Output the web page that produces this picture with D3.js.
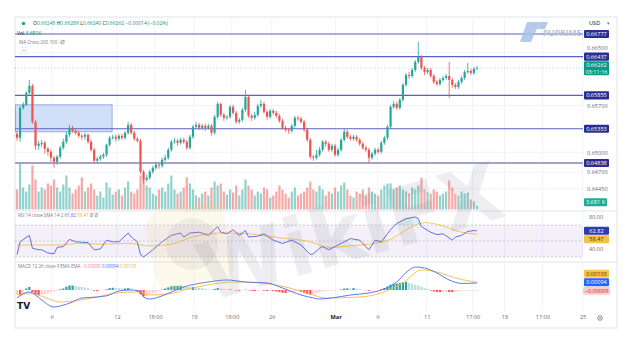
<!DOCTYPE html>
<html><head><meta charset="utf-8">
<script src="https://cdn.jsdelivr.net/npm/d3@7"></script>
<style>body{margin:0;background:#fff;}svg{display:block;}</style>
</head><body>
<svg id="c" width="636" height="345"></svg>
<script>
// ---- DATA (prices x 1e5) ----
const opens = [65277,65217,65667,65712,65892,65997,65457,65097,65127,65142,
65052,65007,64917,64857,64932,65067,65157,65262,65367,65322,
65292,65247,65232,65262,65157,65037,64872,64902,64932,64962,
65112,65217,65232,65202,65247,65217,65292,65412,65292,65202,
65172,64707,64587,64617,64707,64767,64812,64797,64887,64917,
65037,65157,65172,65142,65187,65157,65067,65232,65382,65412,
65367,65397,65367,65397,65292,65532,65727,65562,65517,65532,
65682,65592,65457,65487,65637,65832,65547,65517,65562,65697,
65727,65607,65532,65622,65592,65547,65472,65367,65337,65322,
65397,65517,65502,65457,65337,65187,64932,64917,64962,65037,
65157,65127,65037,65097,64962,65037,65187,65307,65232,65202,
65232,65187,65127,65067,65037,64917,64977,65037,65007,65142,
65217,65382,65682,65727,65667,65787,66012,66162,66147,66237,
66357,66432,66267,66207,66237,66147,66057,66027,66087,66117,
66147,66087,66012,65982,66057,66117,66207,66222,66192,66252];
const highs = [65322,65697,65757,65922,66087,66027,65487,65172,65187,65172,
65082,65037,64947,64962,65097,65202,65307,65412,65397,65352,
65322,65277,65292,65277,65187,65067,64932,64962,64992,65127,
65247,65262,65262,65277,65277,65322,65457,65442,65322,65232,
65202,64737,64662,64737,64797,64857,64842,64917,64962,65067,
65187,65217,65202,65217,65217,65187,65262,65412,65457,65442,
65427,65427,65427,65427,65562,65757,65742,65592,65562,65712,
65712,65622,65517,65667,65937,65862,65577,65607,65727,65787,
65757,65637,65652,65652,65622,65577,65502,65397,65367,65427,
65547,65547,65532,65487,65367,65217,64962,65037,65082,65187,
65187,65157,65127,65127,65067,65217,65352,65337,65262,65262,
65262,65217,65157,65097,65067,65007,65067,65067,65172,65247,
65412,65712,65772,65757,65817,66042,66192,66207,66267,66387,
66657,66462,66297,66267,66267,66177,66087,66117,66147,66177,
66357,66117,66042,66087,66147,66237,66342,66252,66282,66297];
const lows = [65172,65157,65637,65697,65862,65427,65037,65037,65082,64977,
64947,64857,64767,64812,64902,65037,65127,65232,65292,65262,
65217,65187,65187,65127,65007,64842,64842,64872,64902,64932,
65082,65187,65157,65172,65187,65187,65262,65262,65172,65142,
64677,64527,64557,64587,64677,64737,64752,64767,64857,64887,
65007,65127,65097,65112,65127,65037,65037,65202,65352,65337,
65337,65322,65337,65247,65262,65502,65532,65472,65487,65502,
65562,65427,65427,65457,65607,65517,65472,65487,65532,65667,
65577,65487,65502,65562,65517,65442,65337,65307,65277,65292,
65367,65472,65427,65307,65157,64902,64872,64887,64932,65007,
65082,65007,65007,64932,64932,65007,65157,65202,65172,65172,
65157,65097,65037,65007,64842,64887,64947,64977,64977,65112,
65187,65352,65652,65637,65637,65757,65982,66102,66117,66207,
66327,66237,66162,66177,66117,66027,65997,65997,66057,66087,
65817,65967,65952,65952,66027,66087,66177,66162,66162,66237];
const closes = [65217,65667,65712,65892,65997,65457,65097,65127,65142,65052,
65007,64917,64857,64932,65067,65157,65262,65367,65322,65292,
65247,65232,65262,65157,65037,64872,64902,64932,64962,65112,
65217,65232,65202,65247,65217,65292,65412,65292,65202,65172,
64707,64587,64617,64707,64767,64812,64797,64887,64917,65037,
65157,65172,65142,65187,65157,65067,65232,65382,65412,65367,
65397,65367,65397,65292,65532,65727,65562,65517,65532,65682,
65592,65457,65487,65637,65832,65547,65517,65562,65697,65727,
65607,65532,65622,65592,65547,65472,65367,65337,65322,65397,
65517,65502,65457,65337,65187,64932,64917,64962,65037,65157,
65127,65037,65097,64962,65037,65187,65307,65232,65202,65232,
65187,65127,65067,65037,64917,64977,65037,65007,65142,65217,
65382,65682,65727,65667,65787,66012,66162,66147,66237,66357,
66432,66267,66207,66237,66147,66057,66027,66087,66117,66147,
66087,66012,65982,66057,66117,66207,66222,66192,66252,66262];
const volumesK = [20,46,22,18,25,44,30,18,22,20,
26,24,30,22,18,25,34,22,16,20,
24,32,18,22,26,20,14,18,12,27,
22,15,18,20,14,22,28,18,16,20,
34,30,24,22,16,14,20,22,18,26,
34,20,16,18,22,32,26,20,14,12,
16,18,14,22,28,24,26,18,15,20,
17,24,14,20,30,24,20,14,18,16,
22,20,12,14,18,24,20,16,12,18,
22,14,16,18,22,28,20,18,24,20,
14,18,16,22,18,24,27,20,14,12,
18,16,20,14,22,18,16,14,20,24,
26,26,20,22,24,20,18,16,22,20,
24,32,20,18,16,20,18,14,16,18,
29,22,16,14,18,16,17,10,8,3.681];
// key levels (drawn lines)
const levels = [0.66777, 0.66437, 0.65855, 0.65353, 0.64838];
const lastPrice = 0.66262;
const lastTimer = "03:11:16";
// demand zone box
const zoneIdx = [-0.5, 30.8];
const zonePrices = [0.65712, 0.65307];
const priceTicks = [0.64450, 0.64700, 0.65000, 0.65700, 0.66500];
// RSI points (candle index, value)
const rsiIdx = [0,1,4,5,7,8,10,12,13,15,17,19,23,25,27,29,31,33,36,37,39,40,41,44,47,50,53,54,56,59,62,65,66,68,70,72,74,75,78,80,83,86,89,92,95,96,98,99,101,105,108,111,114,116,118,121,123,126,129,130,131,134,136,138,141,142,144,146,148,149];
const rsiVal = [33,49,57,41,39,39,35,34,42,43,52,49,48,39,40,51,49,49,60,55,49,33,30,39,49,57,60,55,60,61,57,68,61,59,64,57,63,55,56,59,51,47,51,45,33,34,41,43,39,47,53,51,39,51,49,64,72,78,80,78,68,61,58,59,51,55,57,62,63,62.82];
const rsiMaIdx = [0,7,14,20,27,36,43,50,56,66,75,85,95,101,108,114,121,127,132,137,143,149];
const rsiMaVal = [45,45,45,47,46,47,44,46,54,60,59,54,49,42,44,46,52,66,73,70,62,58.47];
// MACD (x 1e5)
const macdIdx = [0,4,6,8,12,14,18,21,26,30,33,37,40,41,43,46,50,54,58,62,68,74,81,86,92,96,98,102,108,114,118,123,127,129,132,136,140,144,147,149];
const macdVal = [-107,-27,-67,-134,-228,-214,-161,-107,-94,-67,-13,0,-27,-94,-121,-94,-27,40,80,107,134,107,94,27,-67,-107,-121,-107,-67,-40,0,107,268,308,295,228,134,88,90,94];
const sigIdx = [0,5,9,14,19,26,32,39,43,49,54,60,70,79,87,94,98,100,111,118,125,131,136,142,149];
const sigVal = [-60,-50,-100,-161,-143,-94,-40,-27,-67,-54,0,54,107,94,40,-40,-94,-107,-94,-40,94,268,241,161,103];
const histVal = [-60,-70,-50,20,40,-30,-60,-70,-65,-60,
-50,-30,-20,-10,10,20,45,60,60,55,
45,40,35,25,10,-10,-15,-10,-5,10,
25,30,28,25,20,20,25,20,5,-20,
-60,-85,-80,-60,-45,-30,-15,5,20,35,
50,55,55,58,55,45,40,42,40,30,
25,15,10,5,15,25,18,10,5,8,
3,-8,-10,-5,5,-5,-12,-15,-8,-5,
-10,-15,-12,-15,-20,-28,-38,-42,-40,-30,
-20,-18,-25,-40,-55,-65,-60,-45,-35,-20,
-15,-15,-10,-10,-5,8,20,22,20,25,
18,12,5,-5,-12,-10,-5,0,10,25,
45,70,80,85,95,105,110,95,80,70,
60,40,25,15,-10,-20,-28,-30,-28,-25,
-28,-30,-28,-20,-15,-12,-10,-10,-9,-9];
const timeTickIdx = [11.3, 32.4, 44.7, 57.3, 69.6, 82.5, 103.2, 116.8, 132.7, 147.6, 157.9, 170.2, 183.2];
const timeTickLabels = ["6","12","18:00","19","18:00","26","Mar","6","11","17:00","18","17:00","25"];
const ohlcHeader = ["0.66245","0.66289","0.66240","0.66262","−0.00014 (−0.02%)"];

// ---- LAYOUT ----
const F = '"Open Sans","Noto Sans",sans-serif';
const L = 15, R = 583, FR = 617, T = 17, MB = 211, RB = 262, XB = 311, FB = 328;
const svg = d3.select("#c").style("font-family", F);
const n = closes.length;
const candles = d3.range(n).map(i => ({i, o: opens[i]/1e5, h: highs[i]/1e5, l: lows[i]/1e5, c: closes[i]/1e5, v: volumesK[i]}));
const x = d3.scaleLinear().domain([0, n - 1]).range([17, 477]);
const yP = d3.scaleLinear().domain([0.64838, 0.66777]).range([163, 34]);
const yV = d3.scaleLinear().domain([0, 60]).range([209.5, 149.5]);
const yR = d3.scaleLinear().domain([40, 80]).range([249, 217]);
const yM = d3.scaleLinear().domain([-0.00228, 0.00308]).range([307, 267]);
const UP = "#26a69a", DN = "#ef5350";

const defs = svg.append("defs");
defs.append("clipPath").attr("id","cm").append("rect").attr("x",L).attr("y",T).attr("width",R-L).attr("height",MB-T);
defs.append("clipPath").attr("id","ct").append("rect").attr("x",L).attr("y",XB).attr("width",R-L+4).attr("height",FB-XB);

svg.append("rect").attr("x",L).attr("y",T).attr("width",FR-L).attr("height",FB-T).attr("fill","#fff").attr("stroke","#e0e3eb").attr("stroke-width",1);
[MB, RB].forEach(yy => svg.append("line").attr("x1",L).attr("x2",FR).attr("y1",yy).attr("y2",yy).attr("stroke","#e0e3eb"));

const grid = svg.append("g").attr("stroke","#f0f3fa").attr("stroke-width",1);
timeTickIdx.filter(d => x(d) < R).forEach(d => grid.append("line").attr("x1",x(d)).attr("x2",x(d)).attr("y1",T).attr("y2",XB));
priceTicks.forEach(p => grid.append("line").attr("x1",L).attr("x2",R).attr("y1",yP(p)).attr("y2",yP(p)));

// ---- MAIN PANE ----
const main = svg.append("g").attr("clip-path","url(#cm)");
main.append("g").selectAll("rect").data(candles).join("rect")
  .attr("x", d => x(d.i) - 1.1).attr("width", 2.2)
  .attr("y", d => yV(d.v)).attr("height", d => yV(0) - yV(d.v))
  .attr("fill", d => d.c >= d.o ? UP : DN).attr("opacity", 0.5);
main.append("rect").attr("x", x(zoneIdx[0])).attr("width", x(zoneIdx[1]) - x(zoneIdx[0]))
  .attr("y", yP(zonePrices[0])).attr("height", yP(zonePrices[1]) - yP(zonePrices[0]))
  .attr("fill","#c6d8f7").attr("fill-opacity",0.8).attr("stroke","#7d9ce0").attr("stroke-width",0.8);
main.append("g").selectAll("line").data(levels).join("line")
  .attr("x1",L).attr("x2",R).attr("y1",d=>yP(d)).attr("y2",d=>yP(d))
  .attr("stroke",(d,i)=> i===levels.length-1 ? "#a5a1c9" : "#5b5ec6")
  .attr("stroke-width",(d,i)=> i===levels.length-1 ? 2.2 : 1.2);
main.append("line").attr("x1",L).attr("x2",R).attr("y1",yP(lastPrice)).attr("y2",yP(lastPrice))
  .attr("stroke","#089981").attr("stroke-opacity",0.3).attr("stroke-dasharray","1,2");
const cg = main.append("g");
cg.selectAll("line").data(candles).join("line")
  .attr("x1",d=>x(d.i)).attr("x2",d=>x(d.i)).attr("y1",d=>yP(d.h)).attr("y2",d=>yP(d.l))
  .attr("stroke",d=>d.c>=d.o?UP:DN).attr("stroke-width",0.8);
cg.selectAll("rect").data(candles).join("rect")
  .attr("x",d=>x(d.i)-1.1).attr("width",2.2)
  .attr("y",d=>yP(Math.max(d.o,d.c))).attr("height",d=>Math.max(0.8, Math.abs(yP(d.o)-yP(d.c))))
  .attr("fill",d=>d.c>=d.o?UP:DN);

// ---- RSI PANE ----
svg.append("rect").attr("x",L).attr("width",R-L).attr("y",yR(70)).attr("height",yR(30)-yR(70)).attr("fill","#7e57c2").attr("opacity",0.09);
[70,50,30].forEach(v => svg.append("line").attr("x1",L).attr("x2",R).attr("y1",yR(v)).attr("y2",yR(v))
  .attr("stroke","#9598a1").attr("stroke-opacity",0.6).attr("stroke-dasharray","2,2").attr("stroke-width",0.7));
const rsiPts = rsiIdx.map((d,i)=>[d, rsiVal[i]]);
svg.append("path").datum(rsiPts).attr("fill","#26a69a").attr("opacity",0.16)
  .attr("d", d3.area().x(d=>x(d[0])).y0(yR(70)).y1(d=>yR(Math.max(70,d[1]))));
svg.append("path").datum(rsiMaIdx.map((d,i)=>[d, rsiMaVal[i]])).attr("fill","none").attr("stroke","#f5c04a").attr("stroke-width",0.9)
  .attr("d", d3.line().x(d=>x(d[0])).y(d=>yR(d[1])).curve(d3.curveMonotoneX));
svg.append("path").datum(rsiPts).attr("fill","none").attr("stroke","#5a5fd3").attr("stroke-width",0.9)
  .attr("d", d3.line().x(d=>x(d[0])).y(d=>yR(d[1])));

// ---- MACD PANE ----
const hist = histVal.map((v,i)=>({i, v: v/1e5, p: i>0 ? histVal[i-1]/1e5 : v/1e5}));
svg.append("g").selectAll("rect").data(hist).join("rect")
  .attr("x",d=>x(d.i)-1.1).attr("width",2.2)
  .attr("y",d=>Math.min(yM(0),yM(d.v))).attr("height",d=>Math.abs(yM(0)-yM(d.v)))
  .attr("fill",d=> d.v>=0 ? (d.v>=d.p ? "#26a69a" : "#b2dfdb") : (d.v<d.p ? "#ff5252" : "#ffcdd2"));
svg.append("path").datum(sigIdx.map((d,i)=>[d, sigVal[i]/1e5])).attr("fill","none").attr("stroke","#f7b84b").attr("stroke-width",0.9)
  .attr("d", d3.line().x(d=>x(d[0])).y(d=>yM(d[1])).curve(d3.curveMonotoneX));
svg.append("path").datum(macdIdx.map((d,i)=>[d, macdVal[i]/1e5])).attr("fill","none").attr("stroke","#4a6cf0").attr("stroke-width",0.9)
  .attr("d", d3.line().x(d=>x(d[0])).y(d=>yM(d[1])).curve(d3.curveMonotoneX));

// ---- WATERMARKS ----
const wm = svg.append("g").attr("pointer-events","none");
wm.append("rect").attr("x",150).attr("y",206).attr("width",80).attr("height",80).attr("rx",16)
  .attr("transform","rotate(-12,190,246)").attr("fill","#f2cf66").attr("opacity",0.12);
wm.append("circle").attr("cx",192).attr("cy",244).attr("r",26).attr("fill","#7d7d8c").attr("opacity",0.09);
wm.append("text").attr("transform","translate(350,232) rotate(-16)").attr("text-anchor","middle").attr("dy","0.35em")
  .attr("font-size",80).attr("font-weight",900).attr("fill","#6d6d7d").attr("opacity",0.11).attr("font-family","'DejaVu Sans',sans-serif").text("WikiFX");
wm.append("path").attr("d","M527,22 L540,22 L531,42 L520,42 Z").attr("fill","#a9bfe8").attr("opacity",0.85);
wm.append("path").attr("d","M540,22 L548,22 L545,29 L537,29 Z").attr("fill","#a9bfe8").attr("opacity",0.85);
wm.append("text").attr("x",543).attr("y",36).attr("font-size",8.5).attr("font-weight",700).attr("fill","#b9c1d1").text("PUPRIME");

// ---- AXES ----
function styleAxis(g){ g.select(".domain").remove(); g.selectAll(".tick line").remove();
  g.selectAll("text").attr("fill","#6a6d78").attr("font-size",5.6).attr("font-family",F); }
svg.append("g").attr("transform","translate(587,0)")
  .call(d3.axisRight(yP).tickValues(priceTicks).tickSize(0).tickPadding(0).tickFormat(d3.format(".5f"))).call(styleAxis)
  .selectAll(".tick").filter(d => d === 0.665).attr("transform", d => `translate(0,${yP(d) - 3.8})`);
svg.append("g").attr("transform","translate(589,0)")
  .call(d3.axisRight(yR).tickValues([80,40]).tickSize(0).tickPadding(0).tickFormat(d3.format(".2f"))).call(styleAxis);
const xa = svg.append("g").attr("clip-path","url(#ct)").append("g").attr("transform",`translate(0,${XB})`)
  .call(d3.axisBottom(x).tickValues(timeTickIdx).tickSize(0).tickPadding(4.5).tickFormat((d,i)=>timeTickLabels[i])).call(styleAxis);
xa.selectAll("text").attr("font-weight",(d,i)=> timeTickLabels[i]==="Mar" ? 700 : 400).attr("fill",(d,i)=> timeTickLabels[i]==="Mar" ? "#131722" : "#6a6d78");
svg.append("circle").attr("cx",600).attr("cy",318).attr("r",2.3).attr("fill","none").attr("stroke","#6a6d78").attr("stroke-width",0.8);
svg.append("circle").attr("cx",600).attr("cy",318).attr("r",0.8).attr("fill","#6a6d78");

// ---- LABEL BOXES ----
function box(yc, h, fill, lines, tc, x0=584, w=25){
  const g = svg.append("g");
  g.append("rect").attr("x",x0).attr("y",yc-h/2).attr("width",w).attr("height",h).attr("rx",1).attr("fill",fill);
  lines.forEach((t,k)=> g.append("text").attr("x",x0+w/2).attr("y",yc - (lines.length-1)*3.3 + k*6.6).attr("dy","0.35em")
    .attr("text-anchor","middle").attr("font-size",5.6).attr("fill",tc).attr("font-family",F).text(t));
}
levels.forEach((p,i)=> box(yP(p), 8.2, i===levels.length-1 ? "#35298a" : "#2b2d8f", [d3.format(".5f")(p)], "#fff"));
box(yP(lastPrice), 14, "#089981", [d3.format(".5f")(lastPrice), lastTimer], "#fff");
box(yV(volumesK[n-1]) - 3.5, 8, "#22ab94", [d3.format(".3f")(volumesK[n-1]) + " K"], "#fff", 584, 23);
{ let a = yR(rsiVal[rsiVal.length-1]), b = Math.max(yR(rsiMaVal[rsiMaVal.length-1]), a + 8.5);
  box(a, 8, "#2a3fa8", [d3.format(".2f")(rsiVal[rsiVal.length-1])], "#fff");
  box(b, 8, "#f5c04a", [d3.format(".2f")(rsiMaVal[rsiMaVal.length-1])], "#4b3a0a"); }
{ const hv = histVal[n-1]/1e5, mv = macdVal[macdVal.length-1]/1e5, sv = sigVal[sigVal.length-1]/1e5;
  const yh = yM(hv), ym = Math.min(yM(mv), yh - 8.5), ys = Math.min(yM(sv), ym - 8.5);
  box(ys, 8, "#f7c548", [d3.format(".5f")(sv)], "#4b3a0a");
  box(ym, 8, "#2962ff", [d3.format(".5f")(mv)], "#fff");
  box(yh, 8, "#fccdd0", ["−" + d3.format(".5f")(Math.abs(hv))], "#c62828", 583, 27); }
svg.append("text").attr("x",589).attr("y",25).attr("font-size",5.6).attr("fill","#131722").text("USD");
svg.append("text").attr("x",607).attr("y",25).attr("font-size",4.5).attr("fill","#6a6d78").text("▾");

// ---- HEADERS ----
svg.append("circle").attr("cx",23.5).attr("cy",23.5).attr("r",1.8).attr("fill","#26a69a");
const h1 = svg.append("text").attr("x",33).attr("y",25.3).attr("font-size",5).attr("fill","#089981");
["O","H","L","C"].forEach((k,i)=>{ h1.append("tspan").attr("fill","#131722").text((i?" ":"")+k); h1.append("tspan").text(ohlcHeader[i]); });
h1.append("tspan").text(" " + ohlcHeader[4]);
const h2 = svg.append("text").attr("x",17).attr("y",34.5).attr("font-size",5).attr("fill","#131722");
h2.append("tspan").text("Vol"); h2.append("tspan").attr("fill","#089981").text("  3.681K");
svg.append("text").attr("x",19).attr("y",43.5).attr("font-size",4.6).attr("fill","#787b86").text("MA Cross 200 100");
svg.append("circle").attr("cx",62.5).attr("cy",42).attr("r",1.8).attr("fill","none").attr("stroke","#787b86").attr("stroke-width",0.6);
svg.append("line").attr("x1",60.5).attr("x2",64.5).attr("y1",44).attr("y2",40).attr("stroke","#787b86").attr("stroke-width",0.6);
svg.append("rect").attr("x",20).attr("y",47.5).attr("width",8).attr("height",6).attr("rx",1).attr("fill","#fff").attr("stroke","#e0e3eb").attr("stroke-width",0.6);
svg.append("path").attr("d","M22.3,51.5 L24,49.8 L25.7,51.5").attr("fill","none").attr("stroke","#787b86").attr("stroke-width",0.6);
const h3 = svg.append("text").attr("x",18).attr("y",216.5).attr("font-size",4.5).attr("fill","#787b86");
h3.append("tspan").text("RSI 14 close SMA 14 2  ");
h3.append("tspan").attr("fill","#5a5fd3").text("61.82  ");
h3.append("tspan").attr("fill","#f0b030").text("58.47  ");
h3.append("tspan").text("Ø Ø");
const h4 = svg.append("text").attr("x",18).attr("y",268).attr("font-size",4.5).attr("fill","#787b86");
h4.append("tspan").text("MACD 12 26 close 9 EMA EMA  ");
h4.append("tspan").attr("fill","#f08080").text("−0.00009  ");
h4.append("tspan").attr("fill","#4a6cf0").text("0.00094  ");
h4.append("tspan").attr("fill","#f0b030").text("0.00103");
svg.append("text").attr("x",17).attr("y",309).attr("font-size",9).attr("font-weight",900).attr("fill","#131722").attr("font-family","'DejaVu Sans',sans-serif").text("TV");
</script>
</body></html>
